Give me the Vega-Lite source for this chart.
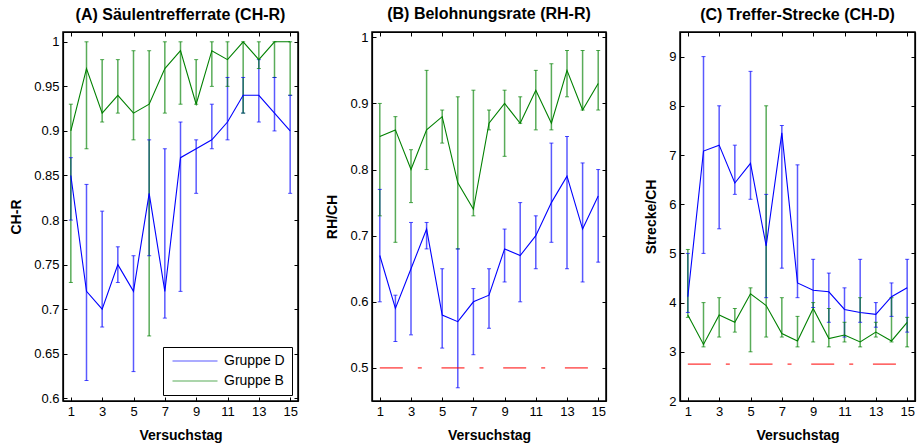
{
  "$schema": "https://vega.github.io/schema/vega-lite/v6.json",
  "background": "white",
  "padding": {"left": 8, "top": 5, "right": 0, "bottom": 0},
  "bounds": "flush",
  "spacing": 74,
  "datasets": {
    "d": [
      {"p":"A","g":"Gruppe D","day":1,"m":0.85,"lo":0.80,"hi":0.87},
      {"p":"A","g":"Gruppe D","day":2,"m":0.72,"lo":0.62,"hi":0.84},
      {"p":"A","g":"Gruppe D","day":3,"m":0.70,"lo":0.68,"hi":0.81},
      {"p":"A","g":"Gruppe D","day":4,"m":0.75,"lo":0.73,"hi":0.77},
      {"p":"A","g":"Gruppe D","day":5,"m":0.72,"lo":0.63,"hi":0.76},
      {"p":"A","g":"Gruppe D","day":6,"m":0.83,"lo":0.76,"hi":0.89},
      {"p":"A","g":"Gruppe D","day":7,"m":0.72,"lo":0.69,"hi":0.88},
      {"p":"A","g":"Gruppe D","day":8,"m":0.87,"lo":0.72,"hi":0.91},
      {"p":"A","g":"Gruppe D","day":9,"m":0.88,"lo":0.83,"hi":0.89},
      {"p":"A","g":"Gruppe D","day":10,"m":0.89,"lo":0.88,"hi":0.93},
      {"p":"A","g":"Gruppe D","day":11,"m":0.91,"lo":0.89,"hi":0.96},
      {"p":"A","g":"Gruppe D","day":12,"m":0.94,"lo":0.92,"hi":0.96},
      {"p":"A","g":"Gruppe D","day":13,"m":0.94,"lo":0.91,"hi":0.98},
      {"p":"A","g":"Gruppe D","day":14,"m":0.92,"lo":0.90,"hi":0.96},
      {"p":"A","g":"Gruppe D","day":15,"m":0.90,"lo":0.83,"hi":0.94},
      {"p":"A","g":"Gruppe B","day":1,"m":0.90,"lo":0.73,"hi":0.93},
      {"p":"A","g":"Gruppe B","day":2,"m":0.97,"lo":0.88,"hi":1.00},
      {"p":"A","g":"Gruppe B","day":3,"m":0.92,"lo":0.91,"hi":0.98},
      {"p":"A","g":"Gruppe B","day":4,"m":0.94,"lo":0.92,"hi":0.98},
      {"p":"A","g":"Gruppe B","day":5,"m":0.92,"lo":0.89,"hi":0.99},
      {"p":"A","g":"Gruppe B","day":6,"m":0.93,"lo":0.67,"hi":0.99},
      {"p":"A","g":"Gruppe B","day":7,"m":0.97,"lo":0.92,"hi":1.00},
      {"p":"A","g":"Gruppe B","day":8,"m":0.99,"lo":0.93,"hi":1.00},
      {"p":"A","g":"Gruppe B","day":9,"m":0.93,"lo":0.93,"hi":0.98},
      {"p":"A","g":"Gruppe B","day":10,"m":0.99,"lo":0.95,"hi":1.00},
      {"p":"A","g":"Gruppe B","day":11,"m":0.98,"lo":0.95,"hi":1.00},
      {"p":"A","g":"Gruppe B","day":12,"m":1.00,"lo":0.92,"hi":1.00},
      {"p":"A","g":"Gruppe B","day":13,"m":0.98,"lo":0.97,"hi":1.00},
      {"p":"A","g":"Gruppe B","day":14,"m":1.00,"lo":0.96,"hi":1.00},
      {"p":"A","g":"Gruppe B","day":15,"m":1.00,"lo":0.94,"hi":1.00},
      {"p":"B","g":"Gruppe D","day":1,"m":0.67,"lo":0.60,"hi":0.77},
      {"p":"B","g":"Gruppe D","day":2,"m":0.59,"lo":0.54,"hi":0.61},
      {"p":"B","g":"Gruppe D","day":3,"m":0.65,"lo":0.55,"hi":0.72},
      {"p":"B","g":"Gruppe D","day":4,"m":0.71,"lo":0.68,"hi":0.72},
      {"p":"B","g":"Gruppe D","day":5,"m":0.58,"lo":0.53,"hi":0.65},
      {"p":"B","g":"Gruppe D","day":6,"m":0.57,"lo":0.47,"hi":0.68},
      {"p":"B","g":"Gruppe D","day":7,"m":0.60,"lo":0.52,"hi":0.62},
      {"p":"B","g":"Gruppe D","day":8,"m":0.61,"lo":0.56,"hi":0.65},
      {"p":"B","g":"Gruppe D","day":9,"m":0.68,"lo":0.63,"hi":0.71},
      {"p":"B","g":"Gruppe D","day":10,"m":0.67,"lo":0.60,"hi":0.75},
      {"p":"B","g":"Gruppe D","day":11,"m":0.70,"lo":0.65,"hi":0.73},
      {"p":"B","g":"Gruppe D","day":12,"m":0.75,"lo":0.69,"hi":0.84},
      {"p":"B","g":"Gruppe D","day":13,"m":0.79,"lo":0.65,"hi":0.85},
      {"p":"B","g":"Gruppe D","day":14,"m":0.71,"lo":0.63,"hi":0.81},
      {"p":"B","g":"Gruppe D","day":15,"m":0.76,"lo":0.66,"hi":0.80},
      {"p":"B","g":"Gruppe B","day":1,"m":0.85,"lo":0.73,"hi":0.90},
      {"p":"B","g":"Gruppe B","day":2,"m":0.86,"lo":0.69,"hi":0.88},
      {"p":"B","g":"Gruppe B","day":3,"m":0.80,"lo":0.75,"hi":0.83},
      {"p":"B","g":"Gruppe B","day":4,"m":0.86,"lo":0.80,"hi":0.95},
      {"p":"B","g":"Gruppe B","day":5,"m":0.88,"lo":0.84,"hi":0.89},
      {"p":"B","g":"Gruppe B","day":6,"m":0.78,"lo":0.68,"hi":0.91},
      {"p":"B","g":"Gruppe B","day":7,"m":0.74,"lo":0.73,"hi":0.92},
      {"p":"B","g":"Gruppe B","day":8,"m":0.87,"lo":0.86,"hi":0.89},
      {"p":"B","g":"Gruppe B","day":9,"m":0.90,"lo":0.82,"hi":0.92},
      {"p":"B","g":"Gruppe B","day":10,"m":0.87,"lo":0.87,"hi":0.91},
      {"p":"B","g":"Gruppe B","day":11,"m":0.92,"lo":0.86,"hi":0.95},
      {"p":"B","g":"Gruppe B","day":12,"m":0.87,"lo":0.86,"hi":0.96},
      {"p":"B","g":"Gruppe B","day":13,"m":0.95,"lo":0.91,"hi":0.98},
      {"p":"B","g":"Gruppe B","day":14,"m":0.89,"lo":0.89,"hi":0.98},
      {"p":"B","g":"Gruppe B","day":15,"m":0.93,"lo":0.89,"hi":0.98},
      {"p":"C","g":"Gruppe D","day":1,"m":4.12,"lo":3.8,"hi":5.0},
      {"p":"C","g":"Gruppe D","day":2,"m":7.08,"lo":5.0,"hi":9.0},
      {"p":"C","g":"Gruppe D","day":3,"m":7.2,"lo":5.5,"hi":8.0},
      {"p":"C","g":"Gruppe D","day":4,"m":6.43,"lo":6.2,"hi":7.2},
      {"p":"C","g":"Gruppe D","day":5,"m":6.83,"lo":6.1,"hi":8.7},
      {"p":"C","g":"Gruppe D","day":6,"m":5.15,"lo":4.1,"hi":6.2},
      {"p":"C","g":"Gruppe D","day":7,"m":7.45,"lo":4.7,"hi":7.6},
      {"p":"C","g":"Gruppe D","day":8,"m":4.4,"lo":4.1,"hi":6.8},
      {"p":"C","g":"Gruppe D","day":9,"m":4.25,"lo":3.9,"hi":4.88},
      {"p":"C","g":"Gruppe D","day":10,"m":4.22,"lo":3.6,"hi":4.6},
      {"p":"C","g":"Gruppe D","day":11,"m":3.86,"lo":3.3,"hi":4.3},
      {"p":"C","g":"Gruppe D","day":12,"m":3.8,"lo":3.6,"hi":4.88},
      {"p":"C","g":"Gruppe D","day":13,"m":3.76,"lo":3.5,"hi":4.0},
      {"p":"C","g":"Gruppe D","day":14,"m":4.12,"lo":3.72,"hi":4.4},
      {"p":"C","g":"Gruppe D","day":15,"m":4.3,"lo":3.4,"hi":4.88},
      {"p":"C","g":"Gruppe B","day":1,"m":3.75,"lo":3.7,"hi":5.08},
      {"p":"C","g":"Gruppe B","day":2,"m":3.15,"lo":3.1,"hi":4.0},
      {"p":"C","g":"Gruppe B","day":3,"m":3.75,"lo":3.3,"hi":4.1},
      {"p":"C","g":"Gruppe B","day":4,"m":3.6,"lo":3.4,"hi":3.88},
      {"p":"C","g":"Gruppe B","day":5,"m":4.18,"lo":3.0,"hi":4.3},
      {"p":"C","g":"Gruppe B","day":6,"m":3.94,"lo":3.3,"hi":8.0},
      {"p":"C","g":"Gruppe B","day":7,"m":3.37,"lo":3.3,"hi":4.1},
      {"p":"C","g":"Gruppe B","day":8,"m":3.22,"lo":3.1,"hi":3.72},
      {"p":"C","g":"Gruppe B","day":9,"m":3.88,"lo":3.2,"hi":4.0},
      {"p":"C","g":"Gruppe B","day":10,"m":3.27,"lo":3.1,"hi":3.88},
      {"p":"C","g":"Gruppe B","day":11,"m":3.34,"lo":3.2,"hi":3.6},
      {"p":"C","g":"Gruppe B","day":12,"m":3.2,"lo":3.1,"hi":4.1},
      {"p":"C","g":"Gruppe B","day":13,"m":3.4,"lo":3.3,"hi":3.6},
      {"p":"C","g":"Gruppe B","day":14,"m":3.22,"lo":3.2,"hi":4.1},
      {"p":"C","g":"Gruppe B","day":15,"m":3.6,"lo":3.1,"hi":3.7}
    ],
    "ref": [
      {"p":"B","x1":1,"x2":15,"y":0.5},
      {"p":"C","x1":1,"x2":15,"y":2.75}
    ]
  },
  "hconcat": [
    {
      "width": 235, "height": 369,
      "title": "(A) Säulentrefferrate (CH-R)",
      "layer": [
        {
          "data": {"name": "d"},
          "transform": [{"filter": "datum.p === 'A'"}],
          "encoding": {
            "x": {"field": "day", "type": "quantitative", "scale": {"domain": [0.5, 15.5], "nice": false, "zero": false}, "axis": {"values": [1,3,5,7,9,11,13,15], "title": "Versuchstag"}},
            "color": {"field": "g", "type": "nominal", "scale": {"domain": ["Gruppe D", "Gruppe B"], "range": ["#0000ff", "#008000"]},
              "legend": {"title": null, "orient": "bottom-right", "offset": 6, "symbolType": "M-1,0H9", "symbolSize": 81, "symbolStrokeWidth": 1.2, "labelFontSize": 14, "labelColor": "black", "strokeColor": "black", "fillColor": "white", "padding": 7, "labelOffset": 40, "rowPadding": 6}}
          },
          "layer": [
            {"mark": {"type": "rule", "opacity": 0.65, "strokeWidth": 1.5}, "encoding": {"y": {"field": "lo", "type": "quantitative", "scale": {"domain": [0.597, 1.011], "nice": false, "zero": false}, "axis": {"values": [0.6,0.65,0.7,0.75,0.8,0.85,0.9,0.95,1], "format": "~g", "title": "CH-R"}}, "y2": {"field": "hi"}}},
            {"mark": {"type": "tick", "orient": "horizontal", "size": 4, "thickness": 1}, "encoding": {"y": {"field": "lo", "type": "quantitative"}}},
            {"mark": {"type": "tick", "orient": "horizontal", "size": 4, "thickness": 1}, "encoding": {"y": {"field": "hi", "type": "quantitative"}}},
            {"mark": {"type": "line", "strokeWidth": 1.1}, "encoding": {"y": {"field": "m", "type": "quantitative"}}}
          ]
        },
        {
          "data": {"name": "d"},
          "transform": [{"filter": "datum.p === 'A'"}],
          "mark": {"type": "point", "opacity": 0},
          "encoding": {
            "x": {"field": "day", "type": "quantitative", "axis": {"orient": "top", "values": [1,3,5,7,9,11,13,15], "labels": false, "title": null}},
            "y": {"field": "m", "type": "quantitative", "axis": {"orient": "right", "values": [0.6,0.65,0.7,0.75,0.8,0.85,0.9,0.95,1], "labels": false, "title": null}}
          }
        }
      ],
      "resolve": {"axis": {"x": "independent", "y": "independent"}}
    },
    {
      "width": 234, "height": 369,
      "title": "(B) Belohnungsrate (RH-R)",
      "layer": [
        {
          "data": {"name": "d"},
          "transform": [{"filter": "datum.p === 'B'"}],
          "encoding": {
            "x": {"field": "day", "type": "quantitative", "scale": {"domain": [0.5, 15.5], "nice": false, "zero": false}, "axis": {"values": [1,3,5,7,9,11,13,15], "title": "Versuchstag"}},
            "color": {"field": "g", "type": "nominal", "scale": {"domain": ["Gruppe D", "Gruppe B"], "range": ["#0000ff", "#008000"]}, "legend": null}
          },
          "layer": [
            {"mark": {"type": "rule", "opacity": 0.65, "strokeWidth": 1.5}, "encoding": {"y": {"field": "lo", "type": "quantitative", "scale": {"domain": [0.45, 1.008], "nice": false, "zero": false}, "axis": {"values": [0.5,0.6,0.7,0.8,0.9,1], "format": "~g", "title": "RH/CH"}}, "y2": {"field": "hi"}}},
            {"mark": {"type": "tick", "orient": "horizontal", "size": 4, "thickness": 1}, "encoding": {"y": {"field": "lo", "type": "quantitative"}}},
            {"mark": {"type": "tick", "orient": "horizontal", "size": 4, "thickness": 1}, "encoding": {"y": {"field": "hi", "type": "quantitative"}}},
            {"mark": {"type": "line", "strokeWidth": 1.1}, "encoding": {"y": {"field": "m", "type": "quantitative"}}},
            {"data": {"name": "ref"}, "transform": [{"filter": "datum.p === 'B'"}], "mark": {"type": "rule", "color": "#ff0000", "strokeDash": [23, 15, 4, 19.7], "strokeWidth": 1}, "encoding": {"x": {"field": "x1", "type": "quantitative"}, "x2": {"field": "x2"}, "y": {"field": "y", "type": "quantitative"}, "color": {"value": "#ff0000"}}}
          ]
        },
        {
          "data": {"name": "d"},
          "transform": [{"filter": "datum.p === 'B'"}],
          "mark": {"type": "point", "opacity": 0},
          "encoding": {
            "x": {"field": "day", "type": "quantitative", "axis": {"orient": "top", "values": [1,3,5,7,9,11,13,15], "labels": false, "title": null}},
            "y": {"field": "m", "type": "quantitative", "axis": {"orient": "right", "values": [0.5,0.6,0.7,0.8,0.9,1], "labels": false, "title": null}}
          }
        }
      ],
      "resolve": {"axis": {"x": "independent", "y": "independent"}}
    },
    {
      "width": 235, "height": 369,
      "title": "(C) Treffer-Strecke (CH-D)",
      "layer": [
        {
          "data": {"name": "d"},
          "transform": [{"filter": "datum.p === 'C'"}],
          "encoding": {
            "x": {"field": "day", "type": "quantitative", "scale": {"domain": [0.5, 15.5], "nice": false, "zero": false}, "axis": {"values": [1,3,5,7,9,11,13,15], "title": "Versuchstag"}},
            "color": {"field": "g", "type": "nominal", "scale": {"domain": ["Gruppe D", "Gruppe B"], "range": ["#0000ff", "#008000"]}, "legend": null}
          },
          "layer": [
            {"mark": {"type": "rule", "opacity": 0.65, "strokeWidth": 1.5}, "encoding": {"y": {"field": "lo", "type": "quantitative", "scale": {"domain": [2, 9.5], "nice": false, "zero": false}, "axis": {"values": [2,3,4,5,6,7,8,9], "title": "Strecke/CH"}}, "y2": {"field": "hi"}}},
            {"mark": {"type": "tick", "orient": "horizontal", "size": 4, "thickness": 1}, "encoding": {"y": {"field": "lo", "type": "quantitative"}}},
            {"mark": {"type": "tick", "orient": "horizontal", "size": 4, "thickness": 1}, "encoding": {"y": {"field": "hi", "type": "quantitative"}}},
            {"mark": {"type": "line", "strokeWidth": 1.1}, "encoding": {"y": {"field": "m", "type": "quantitative"}}},
            {"data": {"name": "ref"}, "transform": [{"filter": "datum.p === 'C'"}], "mark": {"type": "rule", "color": "#ff0000", "strokeDash": [23, 15, 4, 19.7], "strokeWidth": 1}, "encoding": {"x": {"field": "x1", "type": "quantitative"}, "x2": {"field": "x2"}, "y": {"field": "y", "type": "quantitative"}, "color": {"value": "#ff0000"}}}
          ]
        },
        {
          "data": {"name": "d"},
          "transform": [{"filter": "datum.p === 'C'"}],
          "mark": {"type": "point", "opacity": 0},
          "encoding": {
            "x": {"field": "day", "type": "quantitative", "axis": {"orient": "top", "values": [1,3,5,7,9,11,13,15], "labels": false, "title": null}},
            "y": {"field": "m", "type": "quantitative", "axis": {"orient": "right", "values": [2,3,4,5,6,7,8,9], "labels": false, "title": null}}
          }
        }
      ],
      "resolve": {"axis": {"x": "independent", "y": "independent"}}
    }
  ],
  "resolve": {"scale": {"y": "independent"}, "legend": {"color": "independent"}},
  "config": {
    "font": "Liberation Sans",
    "view": {"stroke": "black", "strokeWidth": 1.5},
    "axis": {"grid": false, "domainColor": "black", "domainWidth": 1.2, "tickColor": "black", "labelColor": "black", "titleColor": "black", "labelFontSize": 13, "titleFontSize": 14, "titleFontWeight": "bold", "tickSize": -4, "labelPadding": 8, "labelFlush": false, "labelOverlap": false, "titlePadding": 10, "labelFont": "Liberation Sans", "titleFont": "Liberation Sans"},
    "title": {"fontSize": 16, "fontWeight": "bold", "color": "black", "offset": 9, "font": "Liberation Sans"}
  }
}
